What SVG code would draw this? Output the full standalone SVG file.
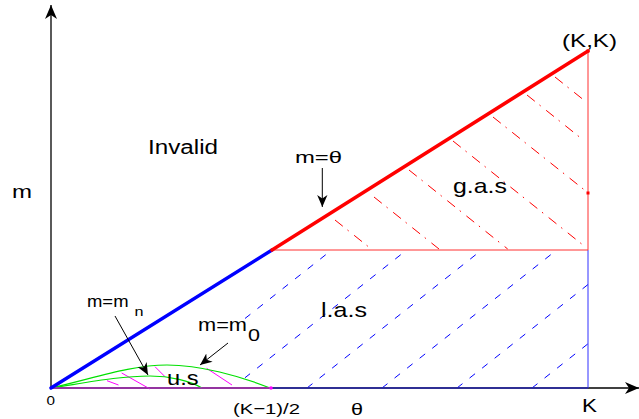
<svg xmlns="http://www.w3.org/2000/svg" width="639" height="419" viewBox="0 0 639 419">
<style>
text{font-family:"Liberation Sans",Arial,sans-serif;fill:#000}
.ax{stroke:#000;stroke-width:1.3;fill:none}
.ptr{stroke:#000;stroke-width:1;fill:none}
.bh{stroke:#0000ff;stroke-width:1;stroke-dasharray:7 9;fill:none}
.rh{stroke:#ff0000;stroke-width:1;stroke-dasharray:10 6 1.5 7;fill:none}
.mg{stroke:#ff00ff;stroke-width:1;fill:none}
.gr{stroke:#00e000;stroke-width:1.2;fill:none}
.thin-r{stroke:#ff3030;stroke-width:1;fill:none}
.thin-b{stroke:#3030ff;stroke-width:1;fill:none}
</style>
<defs>
<marker id="ah" viewBox="0 0 14 12" refX="14" refY="6" markerWidth="14" markerHeight="12" markerUnits="userSpaceOnUse" orient="auto">
<path d="M0,0 L14,6 L0,12 L4,6 Z" fill="#000"/>
</marker>
<marker id="ahs" viewBox="0 0 14 12" refX="14" refY="6" markerWidth="12" markerHeight="11" markerUnits="userSpaceOnUse" orient="auto">
<path d="M0,0 L14,6 L0,12 L4,6 Z" fill="#000"/>
</marker>
<clipPath id="las">
<polygon points="245,266 272,250 588,250 588,388 245,388"/>
</clipPath>
</defs>

<g id="axes">
<line class="ax" x1="51" y1="388" x2="51" y2="5" marker-end="url(#ah)"/>
<line class="ax" x1="51" y1="388" x2="639" y2="388" marker-end="url(#ah)"/>
</g>

<g id="las-region">
<g clip-path="url(#las)">
<line class="bh" x1="157" y1="388" x2="331.7" y2="250"/>
<line class="bh" x1="232" y1="388" x2="406.7" y2="250"/>
<line class="bh" x1="307" y1="388" x2="481.7" y2="250"/>
<line class="bh" x1="382" y1="388" x2="556.7" y2="250"/>
<line class="bh" x1="457" y1="388" x2="631.7" y2="250"/>
<line class="bh" x1="532" y1="388" x2="706.7" y2="250"/>
</g>
<line class="thin-b" x1="588" y1="250" x2="588" y2="388"/>
<line x1="272" y1="388" x2="588" y2="388" stroke="#2a2ab0" stroke-width="1.5"/>
</g>

<g id="gas-region">
<line class="rh" x1="555" y1="77" x2="582" y2="98.6"/>
<line class="rh" x1="527" y1="95" x2="584" y2="140.6"/>
<line class="rh" x1="493" y1="117" x2="587" y2="192"/>
<line class="rh" x1="453" y1="141" x2="586.7" y2="248"/>
<line class="rh" x1="409" y1="170" x2="507.7" y2="249"/>
<line class="rh" x1="374" y1="197" x2="439" y2="249"/>
<line class="rh" x1="335" y1="220" x2="369" y2="247.2"/>
<line class="thin-r" x1="272" y1="250" x2="588" y2="250"/>
<line class="thin-r" x1="588" y1="51" x2="588" y2="250"/>
<rect x="586.5" y="191.5" width="3" height="3" fill="#ff0000"/>
<rect x="586.5" y="49.5" width="3" height="3" fill="#ff0000"/>
</g>

<g id="us-region">
<line class="mg" x1="107" y1="380.7" x2="118.5" y2="385"/>
<line class="mg" x1="121.7" y1="373" x2="150" y2="389"/>
<line class="mg" x1="155" y1="366.7" x2="165" y2="376.7"/>
<line class="mg" x1="206.7" y1="368.3" x2="232" y2="385"/>
<path class="gr" d="M51,388 C92,379 130,365 167,365 C200,365 240,376 270,388"/>
<path class="gr" d="M51,388 C90,382 120,376 150,376 C170,376 190,381 202,388"/>
<line x1="51" y1="388" x2="272" y2="388" stroke="#b030c0" stroke-width="1.5"/>
<circle cx="271" cy="388" r="1.8" fill="#ff00ff"/>
</g>

<g id="boundary">
<line x1="51" y1="388" x2="272" y2="250" stroke="#0000ff" stroke-width="3.4" stroke-linecap="round"/>
<line x1="272" y1="250" x2="588" y2="51" stroke="#ff0000" stroke-width="3.4" stroke-linecap="round"/>
</g>

<g id="connectors">
<line class="ptr" x1="322.3" y1="168" x2="322.3" y2="207" marker-end="url(#ahs)"/>
<line class="ptr" x1="115" y1="316" x2="148" y2="375" marker-end="url(#ahs)"/>
<line class="ptr" x1="228" y1="343" x2="200" y2="365" marker-end="url(#ahs)"/>
</g>

<g id="labels">
<text x="12" y="198" font-size="19" textLength="20" lengthAdjust="spacingAndGlyphs">m</text>
<text x="148" y="154" font-size="19.5" textLength="70" lengthAdjust="spacingAndGlyphs">Invalid</text>
<text x="295" y="163" font-size="17" textLength="47" lengthAdjust="spacingAndGlyphs">m=θ</text>
<text x="562" y="47" font-size="18.5" textLength="55" lengthAdjust="spacingAndGlyphs">(K,K)</text>
<text x="453" y="192.5" font-size="21" textLength="54" lengthAdjust="spacingAndGlyphs">g.a.s</text>
<text x="321" y="317" font-size="21" textLength="46" lengthAdjust="spacingAndGlyphs">l.a.s</text>
<text x="167" y="384.5" font-size="19.5" textLength="31.5" lengthAdjust="spacingAndGlyphs">u.s</text>
<text x="87" y="307.3" font-size="17" textLength="41.5" lengthAdjust="spacingAndGlyphs">m=m</text>
<text x="134.5" y="316" font-size="12.5" textLength="9" lengthAdjust="spacingAndGlyphs">n</text>
<text x="198" y="331" font-size="19" textLength="49" lengthAdjust="spacingAndGlyphs">m=m</text>
<text x="248" y="340.5" font-size="17" textLength="12" lengthAdjust="spacingAndGlyphs">0</text>
<text x="46.5" y="405" font-size="12" textLength="8.5" lengthAdjust="spacingAndGlyphs">0</text>
<text x="233" y="413.5" font-size="15.5" textLength="67" lengthAdjust="spacingAndGlyphs">(K−1)/2</text>
<text x="351" y="415" font-size="16" textLength="12" lengthAdjust="spacingAndGlyphs">θ</text>
<text x="582" y="411.7" font-size="18.5" textLength="15" lengthAdjust="spacingAndGlyphs">K</text>
</g>
</svg>
